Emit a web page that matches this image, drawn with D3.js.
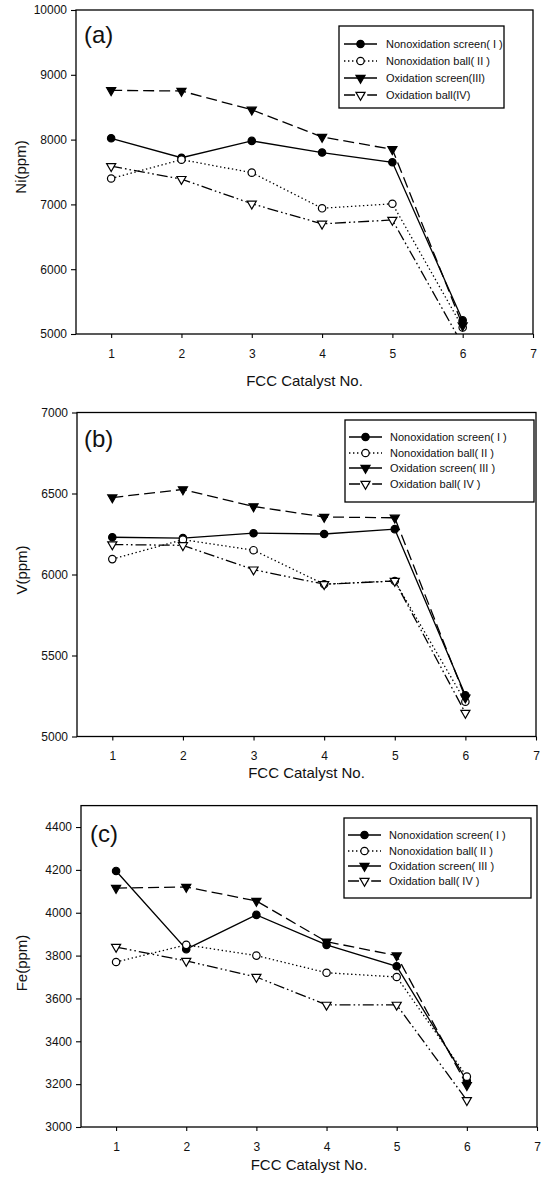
<!DOCTYPE html>
<html><head><meta charset="utf-8">
<script src="https://cdn.jsdelivr.net/npm/d3@7"></script>
<style>
body{margin:0;background:#fff}
svg{display:block}
text{font-family:"Liberation Sans",Arial,Helvetica,sans-serif;fill:#111}
</style>
</head><body>
<svg id="chart" width="547" height="1184"></svg>
<script>
// ---------- data ----------
const catalystNo = [1, 2, 3, 4, 5, 6];
const xTickValues = [1, 2, 3, 4, 5, 6, 7];
const xTitle = "FCC Catalyst No.";

// (a) Ni (ppm)
const niNonoxScreen = [8020, 7720, 7980, 7800, 7650, 5210];
const niNonoxBall   = [7400, 7690, 7490, 6940, 7010, 5100];
const niOxScreen    = [8760, 8750, 8460, 8040, 7850, 5130];
const niOxBall      = [7590, 7390, 7010, 6700, 6760, 4830];
const niTicks = [5000, 6000, 7000, 8000, 9000, 10000];

// (b) V (ppm)
const vNonoxScreen = [6230, 6225, 6255, 6250, 6280, 5255];
const vNonoxBall   = [6095, 6215, 6150, 5940, 5960, 5215];
const vOxScreen    = [6475, 6525, 6420, 6355, 6350, 5240];
const vOxBall      = [6185, 6180, 6030, 5940, 5960, 5145];
const vTicks = [5000, 5500, 6000, 6500, 7000];

// (c) Fe (ppm)
const feNonoxScreen = [4195, 3830, 3990, 3850, 3750, 3215];
const feNonoxBall   = [3770, 3850, 3800, 3720, 3700, 3235];
const feOxScreen    = [4115, 4120, 4055, 3865, 3800, 3195];
const feOxBall      = [3840, 3775, 3700, 3570, 3570, 3125];
const feTicks = [3000, 3200, 3400, 3600, 3800, 4000, 4200, 4400];

const legendNamesA = ["Nonoxidation screen( I )", "Nonoxidation ball( II )", "Oxidation screen(III)", "Oxidation ball(IV)"];
const legendNamesBC = ["Nonoxidation screen( I )", "Nonoxidation ball( II )", "Oxidation screen( III )", "Oxidation ball( IV )"];

// ---------- styles ----------
const seriesStyle = [
  {dash: null, marker: "circle", fill: "#000", legendDash: null},
  {dash: "1.4,2.6", marker: "circle", fill: "#fff", legendDash: "1.4,2.6"},
  {dash: "11,5", marker: "tri", fill: "#000", legendDash: null},
  {dash: "11,3,1.6,3,1.6,3", marker: "tri", fill: "#fff", legendDash: "11,3,1.6,3,1.6,3"}
];

const panels = [
  {label: "(a)", yTitle: "Ni(ppm)", series: [niNonoxScreen, niNonoxBall, niOxScreen, niOxBall],
   names: legendNamesA, yDomain: [5000, 10000], ticks: niTicks,
   box: {l: 76, r: 533, t: 10, b: 334}, labelXY: [84, 43], yTitleXY: [26, 167],
   xTickY: 358, xTitleY: 386,
   legend: {l: 339, r: 504, t: 26, b: 108, lx0: 344, lx1: 377, tx: 386, rows: [44, 61, 78, 95]}},
  {label: "(b)", yTitle: "V(ppm)", series: [vNonoxScreen, vNonoxBall, vOxScreen, vOxBall],
   names: legendNamesBC, yDomain: [5000, 7000], ticks: vTicks,
   box: {l: 77, r: 536, t: 412.5, b: 736.5}, labelXY: [84, 447], yTitleXY: [27, 570],
   xTickY: 760, xTitleY: 778,
   legend: {l: 345, r: 534, t: 420, b: 502, lx0: 349, lx1: 382, tx: 390, rows: [437, 453, 468, 484]}},
  {label: "(c)", yTitle: "Fe(ppm)", series: [feNonoxScreen, feNonoxBall, feOxScreen, feOxBall],
   names: legendNamesBC, yDomain: [3000, 4500], ticks: feTicks,
   box: {l: 81, r: 537, t: 805.6, b: 1127}, labelXY: [90, 842], yTitleXY: [27, 963],
   xTickY: 1151, xTitleY: 1170,
   legend: {l: 344, r: 531, t: 818, b: 898, lx0: 348, lx1: 381, tx: 389, rows: [835, 851, 866, 881]}}
];

const svg = d3.select("#chart");

function drawMarker(g, type, fill, x, y) {
  if (type === "circle") {
    g.append("circle").attr("cx", x).attr("cy", y).attr("r", 3.7)
      .attr("fill", fill).attr("stroke", "#000").attr("stroke-width", 1.2);
  } else {
    g.append("path").attr("d", d3.symbol().type(d3.symbolTriangle).size(36)())
      .attr("transform", `translate(${x},${y}) rotate(180)`)
      .attr("fill", fill).attr("stroke", "#000").attr("stroke-width", 1.2);
  }
}

panels.forEach((p, pi) => {
  const b = p.box;
  const x = d3.scaleLinear().domain([0.5, 7]).range([b.l, b.r]);
  const y = d3.scaleLinear().domain(p.yDomain).range([b.b, b.t]);
  const g = svg.append("g");

  const clipId = "clip" + pi;
  svg.append("clipPath").attr("id", clipId).append("rect")
    .attr("x", b.l).attr("y", b.t).attr("width", b.r - b.l).attr("height", b.b - b.t);

  // y axis
  const ya = g.append("g").attr("transform", `translate(${b.l},0)`)
    .call(d3.axisLeft(y).tickValues(p.ticks).tickSize(5).tickPadding(4).tickFormat(d3.format("d")));
  ya.select(".domain").remove();
  ya.selectAll("text").attr("font-size", 12).attr("font-family", null).style("fill", "#111");
  ya.selectAll("line").attr("stroke", "#000").attr("stroke-width", 1.1);

  // x axis
  const xa = g.append("g").attr("transform", `translate(0,${b.b})`)
    .call(d3.axisBottom(x).tickValues(xTickValues).tickSize(4).tickFormat(d3.format("d")));
  xa.select(".domain").remove();
  xa.selectAll("text").attr("font-size", 12).attr("font-family", null).attr("y", null).attr("dy", null)
    .attr("transform", `translate(0,${p.xTickY - b.b})`).style("fill", "#111");
  xa.selectAll("line").attr("stroke", "#000").attr("stroke-width", 1.1);

  // frame
  g.append("rect").attr("x", b.l).attr("y", b.t).attr("width", b.r - b.l).attr("height", b.b - b.t)
    .attr("fill", "none").attr("stroke", "#000").attr("stroke-width", 1.3);

  // series
  const plot = g.append("g").attr("clip-path", `url(#${clipId})`);
  const line = d3.line().x((d, i) => x(catalystNo[i])).y(d => y(d));
  p.series.forEach((vals, si) => {
    const st = seriesStyle[si];
    plot.append("path").datum(vals).attr("d", line).attr("fill", "none")
      .attr("stroke", "#000").attr("stroke-width", 1.3)
      .attr("stroke-dasharray", st.dash);
  });
  p.series.forEach((vals, si) => {
    const st = seriesStyle[si];
    vals.forEach((v, i) => drawMarker(plot, st.marker, st.fill, x(catalystNo[i]), y(v)));
  });

  // panel label
  g.append("text").attr("x", p.labelXY[0]).attr("y", p.labelXY[1]).attr("font-size", 24).text(p.label);

  // axis titles
  g.append("text").attr("x", (b.l + b.r) / 2).attr("y", p.xTitleY).attr("text-anchor", "middle")
    .attr("font-size", 15).text(xTitle);
  g.append("text").attr("transform", `translate(${p.yTitleXY[0]},${p.yTitleXY[1]}) rotate(-90)`)
    .attr("text-anchor", "middle").attr("font-size", 15).text(p.yTitle);

  // legend
  const L = p.legend;
  g.append("rect").attr("x", L.l).attr("y", L.t).attr("width", L.r - L.l).attr("height", L.b - L.t)
    .attr("fill", "#fff").attr("stroke", "#000").attr("stroke-width", 1.3);
  p.names.forEach((name, si) => {
    const st = seriesStyle[si];
    const ry = L.rows[si];
    g.append("line").attr("x1", L.lx0).attr("x2", L.lx1).attr("y1", ry).attr("y2", ry)
      .attr("stroke", "#000").attr("stroke-width", 1.3).attr("stroke-dasharray", st.legendDash);
    drawMarker(g, st.marker, st.fill, (L.lx0 + L.lx1) / 2, ry);
    g.append("text").attr("x", L.tx).attr("y", ry + 4).attr("font-size", 11).text(name);
  });
});
</script>
</body></html>
